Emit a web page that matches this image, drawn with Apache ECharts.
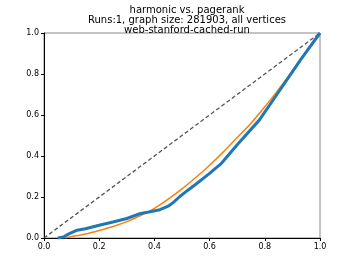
<!DOCTYPE html>
<html><head><meta charset="utf-8">
<script src="https://cdn.jsdelivr.net/npm/echarts@6/dist/echarts.min.js"></script>
<style>html,body{margin:0;padding:0;background:#fff}#c{width:357px;height:268px}</style>
</head><body><div id="c"></div>
<script>
var titleLines = ["harmonic vs. pagerank", "Runs:1, graph size: 281903, all vertices", "web-stanford-cached-run"];
var tickValues = [0.0, 0.2, 0.4, 0.6, 0.8, 1.0];
var diagX = [0, 1];
var diagY = [0, 1];
var blueX = [0.05,0.07,0.09,0.12,0.15,0.2,0.25,0.3,0.35,0.38,0.42,0.45,0.47,0.49,0.52,0.55,0.6,0.62,0.64,0.7,0.78,0.855,0.93,1.0];
var blueY = [0,0.005,0.02,0.038,0.045,0.062,0.078,0.095,0.12,0.127,0.138,0.155,0.175,0.2,0.232,0.262,0.315,0.338,0.36,0.455,0.575,0.722,0.87,1.0];
var orangeX = [0.075,0.1,0.15,0.2,0.25,0.3,0.35,0.4,0.45,0.5,0.55,0.6,0.65,0.7,0.75,0.8,0.85,0.9,0.95,1.0];
var orangeY = [0,0.007,0.02,0.037,0.056,0.08,0.11,0.145,0.19,0.24,0.295,0.355,0.42,0.49,0.56,0.64,0.725,0.815,0.905,1.0];

function pairs(xs, ys){ return xs.map(function(x,i){return [x, ys[i]];}); }
var FONT = 'DejaVu Sans';
var chart = echarts.init(document.getElementById('c'), null, {renderer:'canvas'});
var axisCommon = {
  type:'value', min:0, max:1, interval:0.2,
  axisLine:{show:true, onZero:false, lineStyle:{color:'#000', width:1}},
  axisTick:{show:true, length:3, lineStyle:{color:'#000'}},
  splitLine:{show:false},
  axisLabel:{color:'#000', fontFamily:FONT, fontSize:8, formatter:function(v){return v.toFixed(1);}}
};
chart.setOption({
  animation:false,
  title:{text:titleLines.join('\n'), left:182, textAlign:'center', top:0,
    textStyle:{fontFamily:FONT, fontSize:10, fontWeight:'normal', color:'#000', lineHeight:10}},
  grid:{left:44, right:37, top:33, bottom:30, show:true, borderColor:'#888', borderWidth:1},
  xAxis:Object.assign({}, axisCommon, {axisLabel:Object.assign({}, axisCommon.axisLabel, {margin:5})}),
  yAxis:Object.assign({}, axisCommon, {axisLabel:Object.assign({}, axisCommon.axisLabel, {margin:5})}),
  series:[
    {type:'line', data:pairs(diagX, diagY), symbol:'none', lineStyle:{color:'#555', width:1.3, type:[4,2.5]}},
    {type:'line', data:pairs(orangeX, orangeY), symbol:'none', smooth:0.2, lineStyle:{color:'#ff7f0e', width:1.5}},
    {type:'line', data:pairs(blueX, blueY), symbol:'none', lineStyle:{color:'#1f77b4', width:3}}
  ]
});
</script></body></html>
